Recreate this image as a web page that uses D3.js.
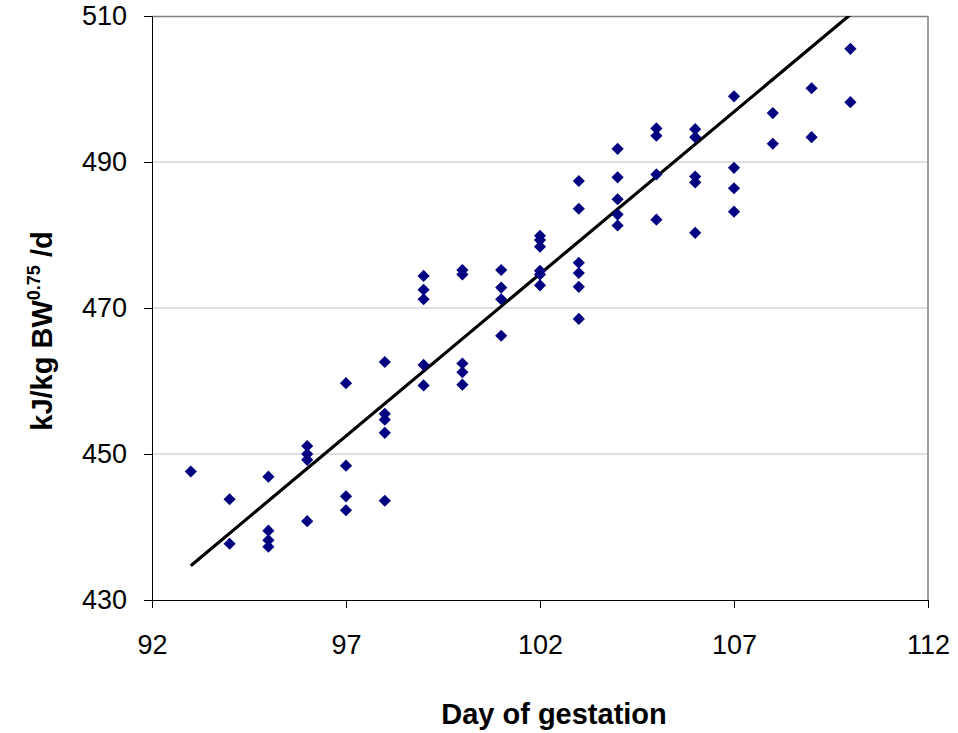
<!DOCTYPE html>
<html lang="en">
<head>
<meta charset="utf-8">
<title>Day of gestation</title>
<script src="https://d3js.org/d3.v7.min.js"></script>
<style>
  body { margin: 0; background: #fff; }
  text { font-family: "Liberation Sans", Arial, sans-serif; fill: #000; }
  .axis text { font-size: 27px; }
  .title { font-size: 29px; font-weight: bold; }
</style>
</head>
<body>
<svg width="958" height="733"></svg>
<script>
// observations: day of gestation -> kJ/kg BW^0.75 /d
var days = [93, 94, 94, 95, 95, 95, 95, 96, 96, 96, 96,
            97, 97, 97, 97, 98, 98, 98, 98, 98,
            99, 99, 99, 99, 99, 100, 100, 100, 100, 100,
            101, 101, 101, 101, 102, 102, 102, 102, 102, 102,
            103, 103, 103, 103, 103, 103, 104, 104, 104, 104, 104,
            105, 105, 105, 105, 106, 106, 106, 106, 106,
            107, 107, 107, 107, 108, 108, 109, 109, 110, 110];
var energy = [447.6, 443.8, 437.7, 446.9, 439.5, 438.2, 437.3, 451.1, 450.0, 449.2, 440.8,
              459.7, 448.4, 444.2, 442.3, 462.6, 455.5, 454.7, 452.9, 443.6,
              474.4, 472.5, 471.2, 462.2, 459.4, 475.2, 474.6, 462.4, 461.2, 459.5,
              475.2, 472.8, 471.2, 466.2, 479.9, 479.3, 478.4, 475.1, 474.6, 473.1,
              487.4, 483.6, 476.2, 474.8, 472.9, 468.5, 491.8, 487.9, 484.9, 482.8, 481.3,
              494.6, 493.6, 488.3, 482.1, 494.5, 493.4, 488.0, 487.2, 480.3,
              499.0, 489.2, 486.4, 483.2, 496.7, 492.5, 500.1, 493.4, 505.5, 498.2];

// linear trend line end points
var trendDays = [93, 110];
var trendEnergy = [434.7, 510.2];

var xTicks = [92, 97, 102, 107, 112];
var yTicks = [430, 450, 470, 490, 510];

var svg = d3.select("svg"),
    margin = {top: 16, right: 30, bottom: 133, left: 152},
    width = +svg.attr("width") - margin.left - margin.right,
    height = +svg.attr("height") - margin.top - margin.bottom;

var x = d3.scaleLinear().domain([92, 112]).range([0, width]),
    y = d3.scaleLinear().domain([430, 510]).range([height, 0]);

var g = svg.append("g")
    .attr("transform", "translate(" + margin.left + "," + margin.top + ")");

svg.append("clipPath").attr("id", "plot")
  .append("rect").attr("x", 0).attr("y", 0).attr("width", width).attr("height", height);

// gridlines
g.selectAll(".grid")
  .data(yTicks.slice(1, -1))
  .enter().append("line")
    .attr("x1", 0).attr("x2", width)
    .attr("y1", function(d) { return y(d); })
    .attr("y2", function(d) { return y(d); })
    .attr("stroke", "#c0c0c0").attr("stroke-width", 1);

// top and right frame
g.append("path")
    .attr("d", "M0,0.5H" + width + "V" + height)
    .attr("fill", "none").attr("stroke", "#808080").attr("stroke-width", 1.5);

g.append("g")
    .attr("class", "axis")
    .attr("transform", "translate(0," + height + ")")
    .call(d3.axisBottom(x).tickValues(xTicks).tickSize(8).tickPadding(27).tickSizeOuter(0))
    .call(function(a) { a.select(".domain").attr("stroke", "#000"); });

g.append("g")
    .attr("class", "axis")
    .call(d3.axisLeft(y).tickValues(yTicks).tickSize(8).tickPadding(17).tickSizeOuter(0))
    .call(function(a) { a.select(".domain").attr("stroke", "#000"); });

// trend line
g.append("line")
    .attr("clip-path", "url(#plot)")
    .attr("x1", x(trendDays[0])).attr("y1", y(trendEnergy[0]))
    .attr("x2", x(trendDays[1])).attr("y2", y(trendEnergy[1]))
    .attr("stroke", "#000").attr("stroke-width", 3.2);

// points (diamonds)
var diamond = d3.symbol().type(d3.symbolSquare).size(74);
g.selectAll(".pt")
  .data(days)
  .enter().append("path")
    .attr("class", "pt")
    .attr("d", diamond)
    .attr("fill", "#000080")
    .attr("transform", function(d, i) {
      return "translate(" + x(d) + "," + y(energy[i]) + ") rotate(45)";
    });

// axis titles
svg.append("text")
    .attr("class", "title")
    .attr("x", 554)
    .attr("y", 724)
    .attr("text-anchor", "middle")
    .text("Day of gestation");

var yt = svg.append("text")
    .attr("class", "title")
    .attr("transform", "translate(52," + 331 + ") rotate(-90)")
    .attr("text-anchor", "middle");
yt.append("tspan").text("kJ/kg BW");
yt.append("tspan").attr("dy", -12).style("font-size", "18px").text("0.75");
yt.append("tspan").attr("dy", 12).text(" /d");
</script>
</body>
</html>
